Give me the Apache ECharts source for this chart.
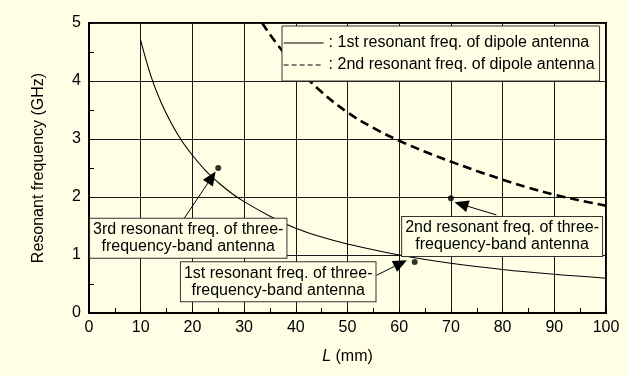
<!DOCTYPE html>
<html>
<head>
<meta charset="utf-8">
<script src="https://cdn.jsdelivr.net/npm/echarts@6/dist/echarts.min.js"></script>
<style>
html,body{margin:0;padding:0;background:#FFFFE6;}
#chart{width:628px;height:376px;}
</style>
</head>
<body>
<div id="chart"></div>
<script>
// ---- data ----
var dipole1L = [10, 12, 14, 16, 18, 20, 22.5, 25, 27.5, 30, 35, 40, 45, 50, 60, 70, 80, 90, 100];
var dipole1F = [4.70, 4.08, 3.62, 3.26, 2.96, 2.72, 2.46, 2.25, 2.07, 1.92, 1.67, 1.46, 1.31, 1.19, 1.0, 0.857, 0.75, 0.667, 0.60];
var dipole2L = [33.5, 36, 40, 45, 50, 55, 60, 65, 70, 75, 80, 85, 90, 95, 100];
var dipole2F = [5.0, 4.68, 4.25, 3.81, 3.46, 3.19, 2.97, 2.78, 2.61, 2.45, 2.30, 2.16, 2.04, 1.94, 1.85];
var triL = [25, 70, 63];
var triF = [2.5, 1.98, 0.88];
var seriesNames = ['1st resonant freq. of dipole antenna', '2nd resonant freq. of dipole antenna'];
var xTicks = [0, 10, 20, 30, 40, 50, 60, 70, 80, 90, 100];
var yTicks = [0, 1, 2, 3, 4, 5];
var noteTexts = [
  '3rd resonant freq. of three-\nfrequency-band antenna',
  '2nd resonant freq. of three-\nfrequency-band antenna',
  '1st resonant freq. of three-\nfrequency-band antenna'
];
var noteBoxL = [19.2, 79.9, 36.6];
var noteBoxF = [1.29, 1.32, 0.54];
var arrowFromL = [17.5, 78.8, 55.6];
var arrowFromF = [1.51, 1.69, 0.65];
var arrowToL = [24.5, 70.7, 61.5];
var arrowToF = [2.44, 1.91, 0.91];

function zip(a, b) { return a.map(function (v, i) { return [v, b[i]]; }); }

var chart = echarts.init(document.getElementById('chart'), null, {renderer: 'canvas'});
var FONT = 'Liberation Sans, Arial, sans-serif';

var option = {
  backgroundColor: '#FFFFE6',
  animation: false,
  grid: {left: 89, right: 22, top: 23, bottom: 63, show: true, borderColor: '#000', borderWidth: 2, backgroundColor: 'transparent'},
  legend: {
    show: true,
    orient: 'vertical', left: 282, top: 26,
    backgroundColor: '#FFFFE6', borderColor: '#333', borderWidth: 1,
    padding: [9, 5, 8, 1], itemGap: 6, itemWidth: 40, itemHeight: 12,
    textStyle: {fontFamily: FONT, fontSize: 16, color: '#000'},
    formatter: function (n) { return ': ' + n; },
    itemStyle: {opacity: 0},
    data: [
      {name: seriesNames[0], lineStyle: {width: 1, color: '#000', type: 'solid'}},
      {name: seriesNames[1], lineStyle: {width: 1.2, color: '#000', type: [5, 3]}}
    ]
  },
  xAxis: {
    type: 'value', min: xTicks[0], max: xTicks[xTicks.length - 1], interval: 10,
    name: '{i|L} (mm)', nameLocation: 'middle', nameGap: 36,
    nameTextStyle: {fontFamily: FONT, fontSize: 16, color: '#000', rich: {i: {fontStyle: 'italic', fontFamily: FONT, fontSize: 16, color: '#000'}}},
    axisLine: {show: true, symbol: 'none', lineStyle: {color: '#000', width: 2}},
    axisTick: {show: true, inside: true, length: 4, lineStyle: {color: '#000'}},
    minorTick: {show: true, splitNumber: 2, length: 5, lineStyle: {color: '#000', width: 1}},
    axisLabel: {fontFamily: FONT, fontSize: 16, color: '#000', margin: 7},
    splitLine: {show: true, lineStyle: {color: '#1a1a1a', width: 1}}
  },
  yAxis: {
    type: 'value', min: yTicks[0], max: yTicks[yTicks.length - 1], interval: 1,
    name: 'Resonant frequency (GHz)', nameLocation: 'middle', nameGap: 42,
    nameTextStyle: {fontFamily: FONT, fontSize: 16, color: '#000'},
    axisLine: {show: true, symbol: 'none', lineStyle: {color: '#000', width: 2}},
    axisTick: {show: true, inside: true, length: 4, lineStyle: {color: '#000'}},
    minorTick: {show: true, splitNumber: 2, length: 5, lineStyle: {color: '#000', width: 1}},
    axisLabel: {fontFamily: FONT, fontSize: 16, color: '#000', margin: 8},
    splitLine: {show: true, lineStyle: {color: '#1a1a1a', width: 1}}
  },
  series: [
    {name: seriesNames[0], type: 'line', data: zip(dipole1L, dipole1F), showSymbol: false, symbol: 'none',
      smooth: 0.4, lineStyle: {color: '#000', width: 1.1}, itemStyle: {color: '#000'}},
    {name: seriesNames[1], type: 'line', data: zip(dipole2L, dipole2F), showSymbol: false, symbol: 'none',
      smooth: 0.4, lineStyle: {color: '#000', width: 2.6, type: [9, 5]}, itemStyle: {color: '#000'}},
    {name: 'three-band', type: 'scatter', data: zip(triL, triF), symbolSize: 6, itemStyle: {color: '#000'}, z: 5}
  ]
};
chart.setOption(option);

// annotations: arrows and boxed notes placed through the axes
var g = [];
for (var i = 0; i < noteTexts.length; i++) {
  var p0 = chart.convertToPixel({gridIndex: 0}, [arrowFromL[i], arrowFromF[i]]);
  var p1 = chart.convertToPixel({gridIndex: 0}, [arrowToL[i], arrowToF[i]]);
  var dx = p1[0] - p0[0], dy = p1[1] - p0[1];
  var len = Math.sqrt(dx * dx + dy * dy);
  var ux = dx / len, uy = dy / len;
  var hl = 14, hw = 6;
  var bx = p1[0] - ux * hl, by = p1[1] - uy * hl;
  g.push({type: 'line', z: 10, shape: {x1: p0[0], y1: p0[1], x2: bx, y2: by}, style: {stroke: '#000', lineWidth: 1}});
  g.push({type: 'polygon', z: 10, shape: {points: [[p1[0], p1[1]], [bx - uy * hw, by + ux * hw], [bx + uy * hw, by - ux * hw]]}, style: {fill: '#000'}});
  var c = chart.convertToPixel({gridIndex: 0}, [noteBoxL[i], noteBoxF[i]]);
  g.push({type: 'text', z: 11, x: c[0], y: c[1], style: {
    text: noteTexts[i], font: '16px ' + FONT, fill: '#000', align: 'center', verticalAlign: 'middle',
    lineHeight: 17, backgroundColor: '#FFFFE6', borderColor: '#333', borderWidth: 1, padding: [3, 3, 2, 3]
  }});
}
chart.setOption({graphic: g});
</script>
</body>
</html>
